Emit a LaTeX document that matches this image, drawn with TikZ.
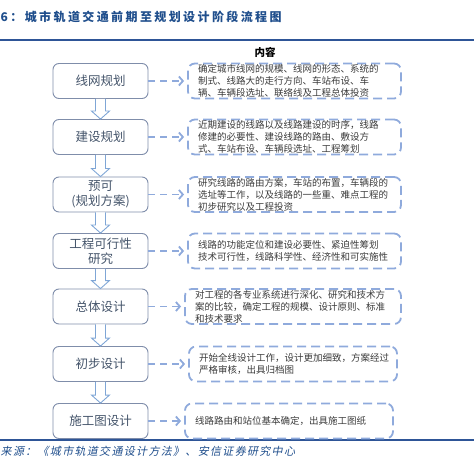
\documentclass[tikz,border=0pt]{standalone}
\usepackage{fontspec}
\usetikzlibrary{arrows.meta,calc,positioning}
\setmainfont{Noto Sans CJK SC}
\newfontfamily\titlefont[LetterSpace=20]{Noto Sans CJK SC}
\newfontfamily\sourcefont[LetterSpace=12,FakeSlant=0.2]{Noto Sans CJK SC}
\definecolor{flowNavy}{HTML}{1F4E8C}
\definecolor{flowRule}{HTML}{2E5597}
\definecolor{flowSlate}{HTML}{44546A}
\definecolor{flowFrame}{HTML}{7F8DAA}
\definecolor{flowSky}{HTML}{8FAADC}
\definecolor{flowArrow}{HTML}{7FA6D6}
\definecolor{flowInk}{HTML}{3A3A3A}
\tikzset{
  stage box/.style={draw=flowFrame, line width=0.9pt, rounded corners=6pt,
    minimum width=95pt, minimum height=35pt, inner sep=0pt, align=center,
    text=flowSlate, font=\fontsize{12.5}{15}\selectfont},
  content box/.style={draw=flowSky, line width=1.8pt,
    dash pattern=on 9pt off 5pt, rounded corners=7pt, minimum height=35pt,
    inner xsep=10pt, inner ysep=0pt, align=left, text=flowInk,
    font=\fontsize{9.5}{12}\selectfont},
  flow link/.style={draw=flowSky, line width=1.8pt, dash pattern=on 7pt off 5pt,
    -{Straight Barb[length=4pt,width=9pt]}, shorten >=3pt},
  stage arrow/.style={draw=flowArrow, line width=0.9pt, fill=white},
  rule line/.style={draw=flowRule, line width=1.5pt}
}
% hollow block arrow from one stage to the next
\newcommand{\StageArrow}[2]{%
  \draw[stage arrow] ($(#1.south)+(-5,0)$) -- ($(#2.north)+(-5,-8)$)
    -- ($(#2.north)+(-9,-8)$) -- (#2.north) -- ($(#2.north)+(9,-8)$)
    -- ($(#2.north)+(5,-8)$) -- ($(#1.south)+(5,0)$);
}
\begin{document}
\begin{tikzpicture}[x=1pt,y=-1pt]
  \useasboundingbox (0,0) rectangle (474,457);
  \node[anchor=west, inner sep=0pt, text=flowNavy,
    font={\fontsize{12}{14}\titlefont\bfseries}] (title) at (0.5,17)
    {6：城市轨道交通前期至规划设计阶段流程图};
  \draw[rule line] (0,40) -- (474,40);
  \draw[rule line] (0,440) -- (474,440);
  \node[inner sep=0pt, text=black, font={\fontsize{10.5}{12}\selectfont\bfseries}]
    (head) at (265,52) {内容};

  % stages
  \node[stage box] (s1) at (100.5,81) {线网规划};
  \node[stage box] (s2) at (100.5,137) {建设规划};
  \node[stage box] (s3) at (100.5,194.5) {预可\\(规划方案)};
  \node[stage box] (s4) at (100.5,251) {工程可行性\\研究};
  \node[stage box] (s5) at (100.5,306.5) {总体设计};
  \node[stage box] (s6) at (100.5,364) {初步设计};
  \node[stage box] (s7) at (100.5,421) {施工图设计};

  % contents
  \node[content box, text width=193pt] (c1) at (294.5,81)
    {确定城市线网的规模、线网的形态、系统的\\制式、线路大的走行方向、车站布设、车\\辆、车辆段选址、联络线及工程总体投资};
  \node[content box, text width=193pt] (c2) at (294.5,137)
    {近期建设的线路以及线路建设的时序，线路\\修建的必要性、建设线路的路由、敷设方\\式、车站布设、车辆段选址、工程筹划};
  \node[content box, text width=193pt] (c3) at (294.5,194.5)
    {研究线路的路由方案，车站的布置，车辆段的\\选址等工作，以及线路的一些重、难点工程的\\初步研究以及工程投资};
  \node[content box, text width=193pt] (c4) at (294.5,251)
    {线路的功能定位和建设必要性、紧迫性筹划\\技术可行性，线路科学性、经济性和可实施性};
  \node[content box, text width=196pt] (c5) at (293,306.5)
    {对工程的各专业系统进行深化、研究和技术方\\案的比较，确定工程的规模、设计原则、标准\\和技术要求};
  \node[content box, text width=188pt] (c6) at (293,364)
    {开始全线设计工作，设计更加细致，方案经过\\严格审核，出具归档图};
  \node[content box, text width=188pt] (c7) at (289,421)
    {线路路由和站位基本确定，出具施工图纸};

  \foreach \a/\b in {s1/s2,s2/s3,s3/s4,s4/s5,s5/s6,s6/s7}
    \StageArrow{\a}{\b};
  \foreach \i in {1,...,7}
    \draw[flow link] (s\i) -- (c\i);

  \node[anchor=west, inner sep=0pt, text=flowNavy,
    font={\fontsize{11}{13}\sourcefont}] (source) at (0.5,451)
    {来源：《城市轨道交通设计方法》、安信证券研究中心};
\end{tikzpicture}
\end{document}
